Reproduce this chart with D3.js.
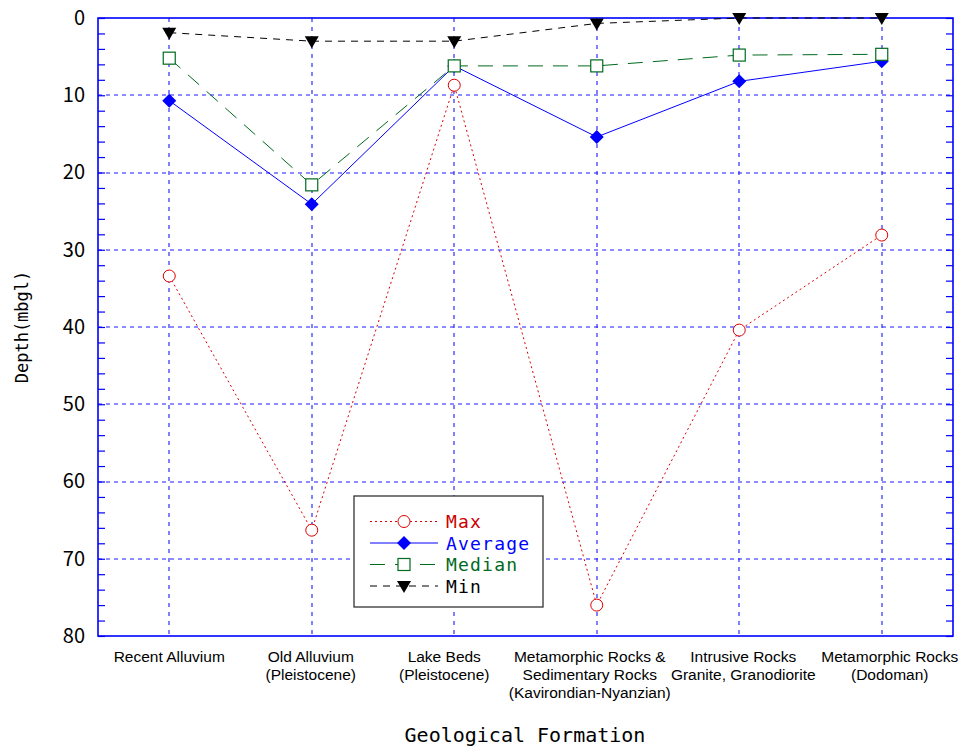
<!DOCTYPE html>
<html>
<head>
<meta charset="utf-8">
<script src="https://cdn.jsdelivr.net/npm/d3@7"></script>
<style>
  html, body { margin: 0; padding: 0; background: #fff; }
  svg { display: block; }
</style>
</head>
<body>
<svg id="chart" width="963" height="749"></svg>
<script>
// ---- Data ----
const categories = [
  ["Recent Alluvium"],
  ["Old Alluvium", "(Pleistocene)"],
  ["Lake Beds", "(Pleistocene)"],
  ["Metamorphic Rocks &", "Sedimentary Rocks", "(Kavirondian-Nyanzian)"],
  ["Intrusive Rocks", "Granite, Granodiorite"],
  ["Metamorphic Rocks", "(Dodoman)"]
];
const maxValues     = [33.4, 66.3, 8.7, 76.0, 40.4, 28.1];
const averageValues = [10.7, 24.1, 6.2, 15.4, 8.2, 5.6];
const medianValues  = [5.2, 21.6, 6.2, 6.2, 4.8, 4.7];
const minValues     = [1.9, 3.0, 3.0, 0.7, 0.0, 0.0];
const yTicks = [0, 10, 20, 30, 40, 50, 60, 70, 80];
const seriesNames = ["Max", "Average", "Median", "Min"];

// ---- Layout ----
const svg = d3.select("#chart");
const L = 98, R = 953, T = 18, B = 636;
const catIdx = categories.map((d, i) => i);
const x = d3.scalePoint().domain(catIdx).range([L, R]).padding(0.5);
const y = d3.scaleLinear().domain([0, 80]).range([T, B]);
const soft = v => Math.round(v);
const blue = "#0000ff";
const gridBlue = "#1a1aff";
const labelShift = [0, -1, -10, -7, 4, 8];

// Grid
const grid = svg.append("g");
grid.selectAll("line.h").data(yTicks.filter(t => t > 0 && t < 80)).enter().append("line")
  .attr("class", "h")
  .attr("x1", L).attr("x2", R).attr("y1", d => soft(y(d))).attr("y2", d => soft(y(d)))
  .attr("stroke", gridBlue).attr("stroke-width", 1.1).attr("stroke-dasharray", "4,4");
grid.selectAll("line.v").data(catIdx).enter().append("line")
  .attr("class", "v")
  .attr("x1", d => soft(x(d))).attr("x2", d => soft(x(d))).attr("y1", T).attr("y2", B)
  .attr("stroke", gridBlue).attr("stroke-width", 1.1).attr("stroke-dasharray", "4,5");

// Frame
svg.append("rect").attr("x", L).attr("y", T).attr("width", R - L).attr("height", B - T)
  .attr("fill", "none").attr("stroke", blue).attr("stroke-width", 1.6);

// Axes (inward minor ticks)
const minor = d3.range(0, 81, 2);
const leftAxis = d3.axisRight(y).tickValues(minor).tickSize(7).tickFormat("");
const rightAxis = d3.axisLeft(y).tickValues(minor).tickSize(7).tickFormat("");
const gl = svg.append("g").attr("transform", `translate(${L},0)`).call(leftAxis);
const gr = svg.append("g").attr("transform", `translate(${R},0)`).call(rightAxis);
[gl, gr].forEach(g => {
  g.select(".domain").remove();
  g.selectAll(".tick line").attr("stroke", blue).attr("stroke-width", 1.2);
});

// Y tick labels
const yLab = d3.axisLeft(y).tickValues(yTicks).tickSize(0).tickPadding(13);
const gy = svg.append("g").attr("transform", `translate(${L},0)`).call(yLab);
gy.select(".domain").remove();
gy.selectAll(".tick text").attr("font-family", "'Noto Sans CJK JP', 'Liberation Sans', sans-serif")
  .attr("font-size", 20).attr("fill", "#000");

// X category labels
const xl = svg.append("g");
categories.forEach((lines, i) => {
  const t = xl.append("text").attr("text-anchor", "middle")
    .attr("font-family", "'Liberation Sans', Arial, sans-serif").attr("font-size", 15.5).attr("fill", "#000");
  lines.forEach((ln, j) => {
    t.append("tspan").attr("x", x(i) + labelShift[i]).attr("y", 662 + j * 18).text(ln);
  });
});

// Axis titles
svg.append("text").attr("x", 525).attr("y", 742).attr("text-anchor", "middle")
  .attr("font-family", "'DejaVu Sans Mono', monospace").attr("font-size", 20).attr("fill", "#000")
  .text("Geological Formation");
svg.append("text").attr("transform", "translate(28,327) rotate(-90)").attr("text-anchor", "middle")
  .attr("font-family", "'DejaVu Sans Mono', monospace").attr("font-size", 17).attr("fill", "#000")
  .text("Depth(mbgl)");

// Series definitions
const series = [
  { name: seriesNames[0], values: maxValues, color: "#dd0000", dash: "2,3", marker: "circle", text: "#cc0000" },
  { name: seriesNames[1], values: averageValues, color: "#0000ff", dash: null, marker: "diamond", text: "#0000ff" },
  { name: seriesNames[2], values: medianValues, color: "#006a1e", dash: "15,10", marker: "square", text: "#006a1e" },
  { name: seriesNames[3], values: minValues, color: "#000000", dash: "7,6", marker: "triangle", text: "#000000" }
];

function drawMarker(g, type, cx, cy, color) {
  if (type === "circle") {
    g.append("circle").attr("cx", cx).attr("cy", cy).attr("r", 6)
      .attr("fill", "#fff").attr("stroke", color).attr("stroke-width", 1);
  } else if (type === "diamond") {
    g.append("path").attr("d", `M${cx},${cy - 7}L${cx + 7},${cy}L${cx},${cy + 7}L${cx - 7},${cy}Z`)
      .attr("fill", color);
  } else if (type === "square") {
    g.append("rect").attr("x", cx - 6).attr("y", cy - 6).attr("width", 12).attr("height", 12)
      .attr("fill", "#fff").attr("stroke", color).attr("stroke-width", 1.2);
  } else if (type === "triangle") {
    g.append("path").attr("d", `M${cx - 7},${cy - 5}L${cx + 7},${cy - 5}L${cx},${cy + 7}Z`)
      .attr("fill", color);
  }
}

const line = d3.line().x((d, i) => x(i)).y(d => y(d));
series.forEach(s => {
  const g = svg.append("g");
  g.append("path").datum(s.values).attr("d", line).attr("fill", "none")
    .attr("stroke", s.color).attr("stroke-width", 1)
    .attr("stroke-dasharray", s.dash);
  s.values.forEach((v, i) => drawMarker(g, s.marker, x(i), y(v), s.color));
});

// Legend
const lg = svg.append("g");
lg.append("rect").attr("x", 354).attr("y", 496).attr("width", 189).attr("height", 111)
  .attr("fill", "#fff").attr("stroke", "#333").attr("stroke-width", 1.3);
series.forEach((s, i) => {
  const cy = 521.5 + i * 21.5;
  lg.append("line").attr("x1", 370).attr("x2", 438).attr("y1", cy).attr("y2", cy)
    .attr("stroke", s.color).attr("stroke-width", 1).attr("stroke-dasharray", s.dash);
  drawMarker(lg, s.marker, 404, cy, s.color);
  lg.append("text").attr("x", 446).attr("y", cy + 6.5)
    .attr("font-family", "'DejaVu Sans Mono', monospace").attr("font-size", 18)
    .attr("letter-spacing", 1.2)
    .attr("fill", s.text).text(s.name);
});
</script>
</body>
</html>
